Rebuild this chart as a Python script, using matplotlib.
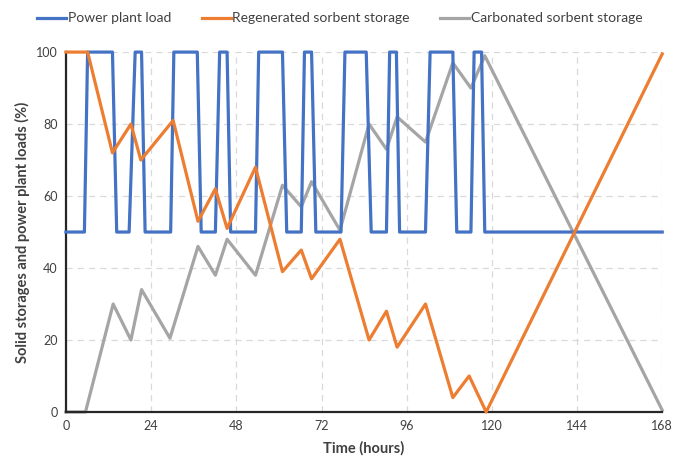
#!/usr/bin/env python3
# coding: utf-8

import matplotlib
matplotlib.use("Agg")
import matplotlib.pyplot as plt

# power plant load (%), breakpoints
load_t = [0, 5.2, 6.1, 13.1, 14.3, 17.8, 19.5, 21.3, 22.3, 29.5, 30.4, 37.0, 38.1,
          42.1, 43.3, 45.4, 46.4, 53.4, 54.3, 61.0, 62.2, 66.3, 67.2, 69.2, 70.4,
          77.5, 78.6, 84.6, 86.0, 90.3, 91.2, 93.1, 94.0, 101.3, 102.6, 109.0,
          110.1, 114.1, 115.0, 117.1, 118.0, 168]
load_v = [50, 50, 100, 100, 50, 50, 100, 100, 50, 50, 100, 100, 50,
          50, 100, 100, 50, 50, 100, 100, 50, 50, 100, 100, 50,
          50, 100, 100, 50, 50, 100, 100, 50, 50, 100, 100,
          50, 50, 100, 100, 50, 50]

# regenerated sorbent storage (%)
regen_t = [0, 6.1, 13.1, 18.3, 21.1, 30.2, 37.2, 42.1, 45.4, 53.4, 61.0, 66.3,
           69.2, 77.2, 85.4, 90.3, 93.3, 101.3, 109.0, 113.6, 118.4, 168]
regen_v = [100, 100, 72, 80, 70, 81, 53, 62, 51, 68, 39, 45,
           37, 48, 20, 28, 18, 30, 4, 10, 0, 99.5]

# carbonated sorbent storage (%)
carb_t = [0, 5.5, 13.3, 18.3, 21.3, 29.3, 37.2, 42.1, 45.4, 53.4, 61.0, 66.3,
          69.2, 77.2, 85.4, 90.3, 93.3, 101.3, 109.0, 114.1, 118.0, 168]
carb_v = [0, 0, 30, 20, 34, 20.5, 46, 38, 48, 38, 63, 57,
          64, 50.5, 80, 73, 82, 75, 97, 90, 99, 0.5]

x_ticks = [0, 24, 48, 72, 96, 120, 144, 168]
y_ticks = [0, 20, 40, 60, 80, 100]

plt.rcParams['font.family'] = ['Lato', 'DejaVu Sans']

fig = plt.figure(figsize=(6.73, 4.65), dpi=100)
ax = fig.add_axes([0.098, 0.114, 0.886, 0.774])

ax.plot(load_t, load_v, color='#4472C4', lw=2.3, label='Power plant load', clip_on=False, zorder=3)
ax.plot(regen_t, regen_v, color='#ED7D31', lw=2.3, label='Regenerated sorbent storage', clip_on=False, zorder=4)
ax.plot(carb_t, carb_v, color='#A5A5A5', lw=2.3, label='Carbonated sorbent storage', clip_on=False, zorder=2)

ax.set_xlim(0, 168)
ax.set_ylim(0, 100)
ax.set_xticks(x_ticks)
ax.set_yticks(y_ticks)
ax.tick_params(length=0, labelsize=9, colors='#404040', pad=6)
ax.grid(True, ls=(0, (5, 4)), color='#D9D9D9', lw=0.9)
ax.set_axisbelow(True)
for s in ['top', 'right']:
    ax.spines[s].set_visible(False)
for s in ['left', 'bottom']:
    ax.spines[s].set_color('#262626')
    ax.spines[s].set_linewidth(1.6)

ax.set_xlabel('Time (hours)', fontsize=10.5, fontweight='bold', color='#404040', labelpad=6)
ax.set_ylabel('Solid storages and power plant loads (%)', fontsize=10.5, fontweight='bold',
              color='#404040', labelpad=4)

# legend is centred on the figure, not on the axes
fig.legend(loc='upper center', bbox_to_anchor=(0.505, 1.0), ncol=3, frameon=False,
           fontsize=10, handlelength=2.1, handletextpad=0.1, columnspacing=2.2,
           labelcolor='#404040')

fig.savefig('out.png', dpi=100)
